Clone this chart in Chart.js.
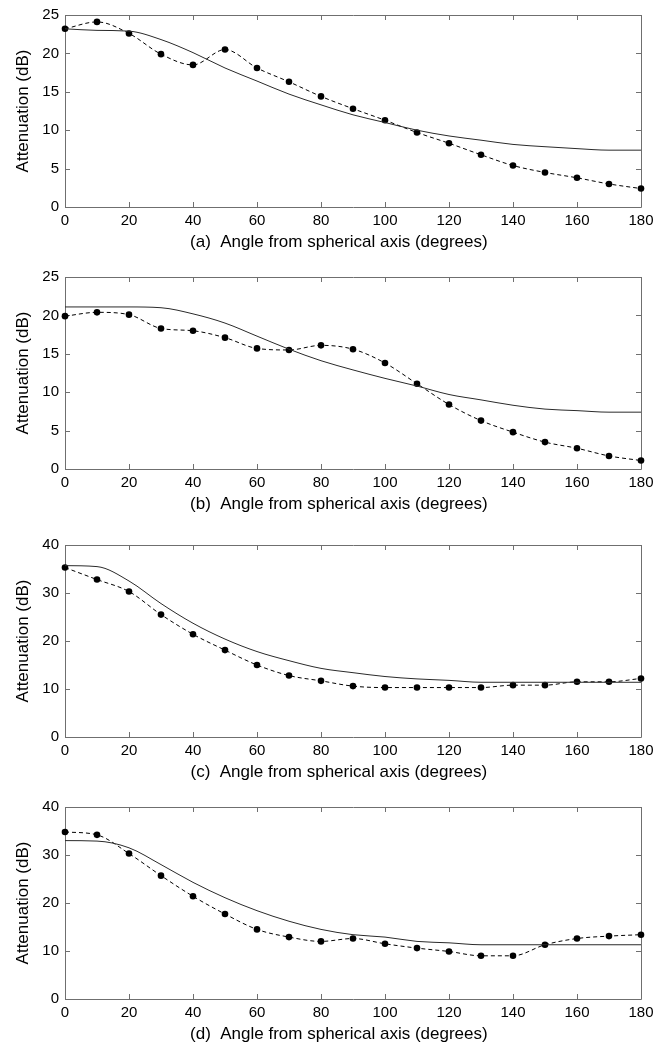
<!DOCTYPE html>
<html>
<head>
<meta charset="utf-8">
<script src="https://cdn.jsdelivr.net/npm/chart.js@4.4.0/dist/chart.umd.min.js"></script>
<style>
  html, body { margin: 0; padding: 0; background: #fff; overflow: hidden; }
  .panel { position: absolute; left: 0; width: 669px; height: 257px; }
</style>
</head>
<body>
<div class="panel" style="top:0px"><canvas id="chartA" width="669" height="257"></canvas></div>
<div class="panel" style="top:262px"><canvas id="chartB" width="669" height="257"></canvas></div>
<div class="panel" style="top:530px"><canvas id="chartC" width="669" height="257"></canvas></div>
<div class="panel" style="top:792px"><canvas id="chartD" width="669" height="257"></canvas></div>
<script>
// angle from the spherical axis, degrees
const angles = [0, 10, 20, 30, 40, 50, 60, 70, 80, 90, 100, 110, 120, 130, 140, 150, 160, 170, 180];

// measured attenuation (dots, dashed) and model curve (solid), dB
const measuredA = [23.2, 24.1, 22.6, 19.9, 18.5, 20.5, 18.1, 16.3, 14.4, 12.8, 11.3, 9.7, 8.3, 6.8, 5.4, 4.5, 3.8, 3.0, 2.4];
const modelA    = [23.2, 23.0, 22.9, 21.8, 20.1, 18.1, 16.4, 14.7, 13.3, 12.0, 11.0, 10.0, 9.25, 8.7, 8.15, 7.85, 7.6, 7.4, 7.4];

const measuredB = [19.9, 20.4, 20.1, 18.3, 18.0, 17.1, 15.7, 15.5, 16.1, 15.6, 13.8, 11.1, 8.4, 6.3, 4.8, 3.5, 2.7, 1.7, 1.1];
const modelB    = [21.1, 21.1, 21.1, 21.0, 20.2, 19.0, 17.3, 15.6, 14.1, 12.9, 11.8, 10.8, 9.7, 9.0, 8.3, 7.8, 7.6, 7.4, 7.4];

const measuredC = [35.3, 32.8, 30.3, 25.5, 21.4, 18.1, 15.0, 12.8, 11.7, 10.6, 10.3, 10.3, 10.3, 10.3, 10.8, 10.8, 11.5, 11.5, 12.2];
const modelC    = [35.7, 35.5, 32.5, 27.8, 23.7, 20.4, 17.8, 15.9, 14.3, 13.4, 12.6, 12.1, 11.8, 11.4, 11.4, 11.4, 11.4, 11.4, 11.4];

const measuredD = [34.8, 34.2, 30.3, 25.7, 21.4, 17.7, 14.5, 12.9, 12.0, 12.6, 11.5, 10.6, 9.9, 9.0, 9.0, 11.3, 12.6, 13.1, 13.4];
const modelD    = [33.0, 32.9, 31.5, 28.0, 24.3, 21.1, 18.4, 16.2, 14.5, 13.4, 12.9, 12.0, 11.7, 11.3, 11.3, 11.3, 11.3, 11.3, 11.3];

const xLabel = 'Angle from spherical axis (degrees)';
const yLabel = 'Attenuation (dB)';

const axisColor = '#6f6f6f';

Chart.defaults.font.family = "'Liberation Sans', Arial, Helvetica, sans-serif";
Chart.defaults.color = '#000';

// boxed frame with inward tick marks on all four sides
const frameTicks = {
  id: 'frameTicks',
  beforeDatasetsDraw(chart) {
    const { ctx, chartArea: a, scales: { x, y } } = chart;
    const len = 5;
    ctx.save();
    ctx.strokeStyle = axisColor;
    ctx.lineWidth = 1;
    ctx.beginPath();
    ctx.rect(a.left + 0.5, a.top + 0.5, a.right - a.left, a.bottom - a.top);
    x.ticks.forEach(t => {
      const px = Math.round(x.getPixelForValue(t.value)) + 0.5;
      ctx.moveTo(px, a.bottom); ctx.lineTo(px, a.bottom - len);
      ctx.moveTo(px, a.top); ctx.lineTo(px, a.top + len);
    });
    y.ticks.forEach(t => {
      const py = Math.round(y.getPixelForValue(t.value)) + 0.5;
      ctx.moveTo(a.left, py); ctx.lineTo(a.left + len, py);
      ctx.moveTo(a.right, py); ctx.lineTo(a.right - len, py);
    });
    ctx.stroke();
    ctx.restore();
  }
};

function points(values) {
  return angles.map((a, i) => ({ x: a, y: values[i] }));
}

function makePanel(id, letter, measured, model, yMax, yStep) {
  new Chart(document.getElementById(id), {
    type: 'line',
    data: {
      datasets: [
        {
          label: 'model',
          data: points(model),
          borderColor: '#2a2a2a',
          borderWidth: 1,
          pointRadius: 0,
          cubicInterpolationMode: 'monotone'
        },
        {
          label: 'measured',
          data: points(measured),
          borderColor: '#000',
          borderWidth: 1,
          borderDash: [4, 3],
          pointRadius: 3.3,
          pointBackgroundColor: '#000',
          pointBorderWidth: 0,
          cubicInterpolationMode: 'monotone',
          clip: false
        }
      ]
    },
    options: {
      responsive: false,
      animation: false,
      events: [],
      layout: { padding: { top: 15, right: 28, bottom: 0, left: 0 } },
      plugins: { legend: { display: false }, tooltip: { enabled: false } },
      scales: {
        x: {
          type: 'linear',
          min: 0,
          max: 180,
          grid: { display: false, drawTicks: false },
          border: { display: false },
          ticks: { stepSize: 20, padding: 5, font: { size: 15 } },
          title: {
            display: true,
            // trailing spaces keep the axis words centred under the plot
            text: '(' + letter + ')\u00a0\u00a0' + xLabel + '\u00a0'.repeat(6),
            font: { size: 17 },
            padding: { top: 0, bottom: 4 }
          },
          afterFit(scale) { scale.height = 50; }
        },
        y: {
          min: 0,
          max: yMax,
          grid: { display: false, drawTicks: false },
          border: { display: false },
          ticks: { stepSize: yStep, padding: 6, font: { size: 15 } },
          title: {
            display: true,
            text: yLabel,
            font: { size: 17 },
            padding: { top: 13, bottom: 0 }
          },
          afterFit(scale) { scale.width = 65; }
        }
      }
    },
    plugins: [frameTicks]
  });
}

makePanel('chartA', 'a', measuredA, modelA, 25, 5);
makePanel('chartB', 'b', measuredB, modelB, 25, 5);
makePanel('chartC', 'c', measuredC, modelC, 40, 10);
makePanel('chartD', 'd', measuredD, modelD, 40, 10);
</script>
</body>
</html>
